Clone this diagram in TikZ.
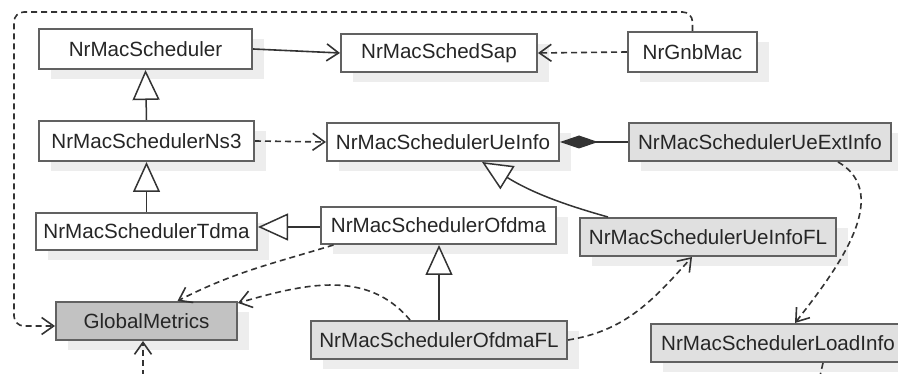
\documentclass[tikz,border=0pt]{standalone}
\usepackage{fontspec}
\setmainfont{Liberation Sans}
\usetikzlibrary{arrows.meta,shadows}

\tikzset{
  cls/.style={draw=black!62, line width=2pt, fill=white, inner sep=0pt,
    text=black!85, font=\fontsize{20.6}{24}\selectfont,
    drop shadow={fill=black!7, opacity=1, shadow xshift=12pt, shadow yshift=-10pt}},
  extcls/.style={cls, fill=black!12},
  globcls/.style={cls, fill=black!24},
  assoc/.style={draw=black!80, line width=1.6pt, -{Straight Barb[length=12pt,width=17pt]}},
  dep/.style={assoc, dash pattern=on 6pt off 4pt},
  inherit/.style={draw=black!80, line width=1.5pt, -{Triangle[length=30pt,width=27pt,fill=white]}},
  compose/.style={draw=black!80, line width=1.5pt, {Diamond[length=38pt,width=13pt]}-}
}

\begin{document}
\begin{tikzpicture}[x=1pt,y=1pt]
            \useasboundingbox (0,0) rectangle (898,374);
            \node[cls, minimum width=213pt, minimum height=40pt] (sched) at (145.5,325) {NrMacScheduler};
            \node[cls, minimum width=196pt, minimum height=38pt] (sap) at (439,321) {NrMacSchedSap};
            \node[cls, minimum width=129pt, minimum height=40pt] (gnb) at (692.5,322) {NrGnbMac};
            \node[cls, minimum width=215pt, minimum height=40pt] (ns3) at (146.5,233) {NrMacSchedulerNs3};
            \node[cls, minimum width=232pt, minimum height=38pt] (ueinfo) at (443,232) {NrMacSchedulerUeInfo};
            \node[extcls, minimum width=262pt, minimum height=38pt] (ueext) at (760,232) {NrMacSchedulerUeExtInfo};
            \node[cls, minimum width=221pt, minimum height=37pt] (tdma) at (146.5,142.5) {NrMacSchedulerTdma};
            \node[cls, minimum width=235pt, minimum height=37pt] (ofdma) at (438.5,148.5) {NrMacSchedulerOfdma};
            \node[extcls, minimum width=256pt, minimum height=38pt] (uefl) at (708,137) {NrMacSchedulerUeInfoFL};
            \node[globcls, minimum width=181pt, minimum height=38pt] (gm) at (146.5,53) {GlobalMetrics};
            \node[extcls, minimum width=256pt, minimum height=38pt] (ofdmafl) at (439,34) {NrMacSchedulerOfdmaFL};
            \node[extcls, minimum width=254pt, minimum height=38pt] (load) at (778,31) {NrMacSchedulerLoadInfo};

            \coordinate (loopc) at (14,362);
            \coordinate (gmsrc) at (143,-2);
            \coordinate (loadout) at (820,-2);

            \draw[assoc] (sched.east) -- (sap.west);
            \draw[dep] (gnb.west) -- (sap.east);
            \draw[dep, rounded corners=10pt] (gnb.north) |- (loopc) |- ([yshift=-5pt]gm.west);
            \draw[inherit] (ns3.north) -- (sched.south);
            \draw[inherit] (tdma.north) -- (ns3.south);
            \draw[inherit] ([yshift=-1.5pt]ofdma.west) -- ([yshift=-1.5pt]ofdma.west -| tdma.east);
            \draw[dep] (ns3.east) -- (ueinfo.west);
            \draw[compose] (ueinfo.east) -- (ueext.west);
            \draw[inherit] ([xshift=29pt]uefl.north west) to[bend left=8] ([xshift=39pt]ueinfo.south);
            \draw[inherit] (ofdmafl.north) -- (ofdmafl.north |- ofdma.south);
            \draw[dep] ([xshift=-105pt]ofdma.south) to[out=197,in=27] ([xshift=31pt]gm.north);
            \draw[dep] ([xshift=-29pt]ofdmafl.north) to[out=130,in=16] ([yshift=-2pt]gm.north east);
            \draw[dep] (ofdmafl.east) to[out=9,in=228] ([xshift=-16pt]uefl.south);
            \draw[dep] ([xshift=78pt]ueext.south) to[out=-30,in=52] ([xshift=17pt]load.north);
            \draw[dep] (gmsrc) -- (gmsrc |- gm.south);
            \draw[dep, -] ([xshift=45pt]load.south) -- (loadout);
        \end{tikzpicture}
\end{document}
